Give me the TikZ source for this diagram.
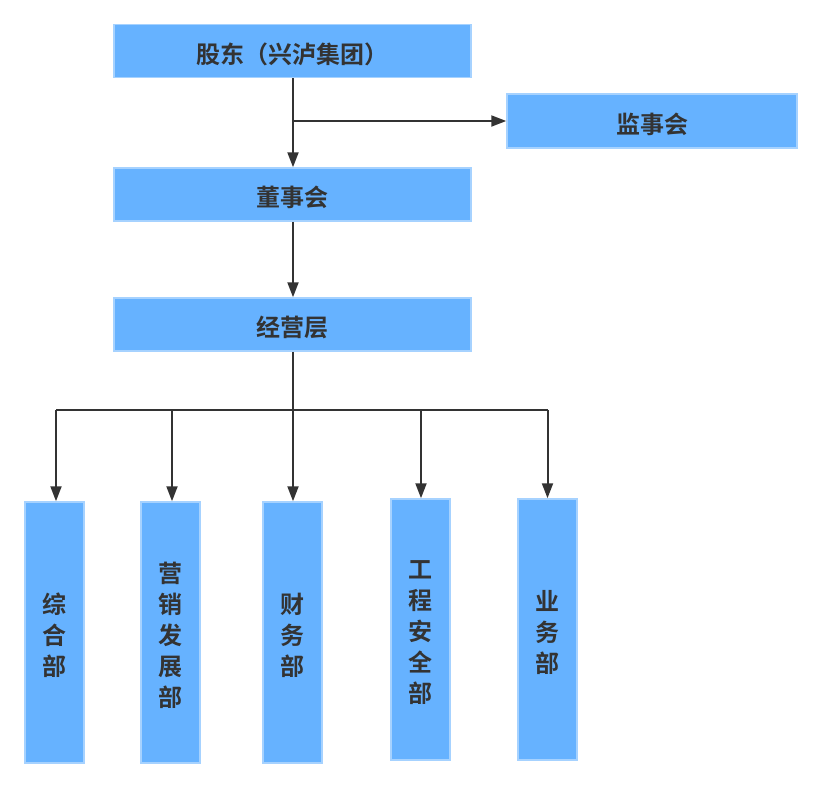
\documentclass[tikz,border=0pt]{standalone}
\usepackage{fontspec}
\newfontfamily\cjk{Noto Sans CJK SC}[BoldFont={Noto Sans CJK SC Bold}]
\usetikzlibrary{arrows.meta}
\definecolor{boxfill}{HTML}{66B2FF}
\definecolor{boxline}{HTML}{A6D2FF}
\definecolor{ink}{HTML}{333333}
\tikzset{
  x=1pt,y=-1pt,
  hbox/.style={draw=boxline,line width=1.5pt,fill=boxfill,inner sep=0pt,
    minimum width=357pt,minimum height=53pt,text height=26pt,text depth=2pt,
    font=\cjk\bfseries\fontsize{24}{28}\selectfont,text=ink},
  vbox/.style={draw=boxline,line width=1.5pt,fill=boxfill,inner sep=0pt,
    minimum width=59pt,minimum height=261pt},
  vtext/.style={inner sep=0pt,align=center,yshift=-3pt,
    font=\cjk\bfseries\fontsize{24}{31}\selectfont,text=ink},
  conn/.style={draw=ink,line width=2pt,-{Triangle[length=15pt,width=11pt]}},
  plain/.style={draw=ink,line width=2pt}
}
\begin{document}
\begin{tikzpicture}
\useasboundingbox (0,0) rectangle (821,787);
\node[hbox] (gd) at (292.5,51) {股东（兴泸集团）};
\node[hbox,minimum width=290pt,minimum height=54pt] (jsh) at (652,121) {监事会};
\node[hbox] (dsh) at (292.5,194.5) {董事会};
\node[hbox] (jyc) at (292.5,324.5) {经营层};
\node[vbox,label={[vtext]center:综\\合\\部}] (zh) at (54.5,632.5) {};
\node[vbox,label={[vtext]center:营\\销\\发\\展\\部}] (yx) at (170.5,632.5) {};
\node[vbox,label={[vtext]center:财\\务\\部}] (cw) at (292.5,632.5) {};
\node[vbox,label={[vtext]center:工\\程\\安\\全\\部}] (gc) at (420.5,629.5) {};
\node[vbox,label={[vtext]center:业\\务\\部}] (yw) at (547.5,629.5) {};
\coordinate (b1) at (293,121);
\coordinate (hb) at (293,410);
\coordinate (hl) at (56,410);
\coordinate (hr) at (548,410);
\coordinate (d2) at (172,410);
\coordinate (d4) at (421,410);
\draw[conn] (gd.south -| b1) -- (dsh.north -| b1);
\draw[conn] (b1) -- (jsh.west);
\draw[conn] (dsh.south -| b1) -- (jyc.north -| b1);
\draw[plain] (jyc.south -| hb) -- (hb);
\draw[plain] (hl) -- (hr);
\draw[conn] (hl) -- (zh.north -| hl);
\draw[conn] (d2) -- (yx.north -| d2);
\draw[conn] (hb) -- (cw.north -| hb);
\draw[conn] (d4) -- (gc.north -| d4);
\draw[conn] (yw.north |- hr) -- (yw.north);
\end{tikzpicture}
\end{document}
